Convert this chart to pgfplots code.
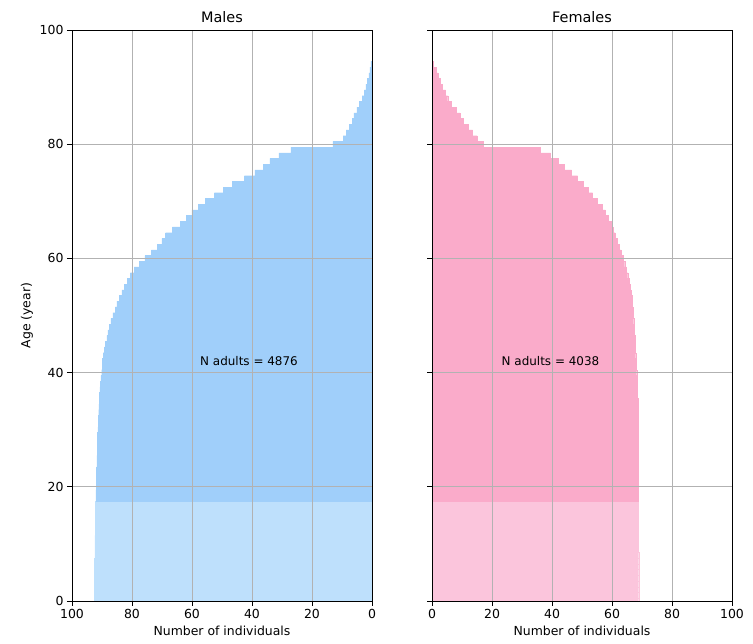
\documentclass[border=0pt]{standalone}
\usepackage{pgfplots}
\pgfplotsset{compat=1.18}
\usepackage{fontspec}
\setmainfont{DejaVu Sans}
\definecolor{mad}{RGB}{160,207,250}
\definecolor{mch}{RGB}{190,224,252}
\definecolor{fad}{RGB}{250,171,202}
\definecolor{fch}{RGB}{251,197,220}
\pgfplotsset{
  pyr/.style={
    scale only axis, width=300bp, height=571bp,
    xmin=0, xmax=100, ymin=0, ymax=100,
    xtick={0,20,...,100}, ytick={0,20,...,100},
    grid=major, major grid style={gray!60, line width=0.6bp},
    axis line style={line width=0.8bp},
    tick style={black, line width=0.8bp},
    major tick length=5bp,
    tick align=outside, tick pos=left,
    axis on top,
    /pgf/number format/assume math mode=true,
    ticklabel style={font=\fontsize{12.5}{15}\selectfont},
    label style={font=\fontsize{12.5}{15}\selectfont},
    title style={font=\fontsize{14.5}{17}\selectfont, yshift=-2bp},
    xlabel={Number of individuals},
    xbar, bar width=1, bar shift=0,
  }
}
\begin{document}
\begin{tikzpicture}
\begin{axis}[pyr, x dir=reverse, title={Males}, ylabel={Age (year)}]
\addplot[fill=mch, draw=mch, line width=0.2bp] coordinates {
(92.6,0) (92.6,1) (92.6,2) (92.5,3) (92.5,4) (92.5,5) (92.5,6) (92.5,7) (92.4,8)
(92.4,9) (92.4,10) (92.4,11) (92.3,12) (92.3,13) (92.3,14) (92.3,15) (92.2,16) (92.2,17)};
\addplot[fill=mad, draw=mad, line width=0.2bp] coordinates {
(92.0,18) (92.0,19) (91.9,20) (91.9,21) (91.8,22) (91.8,23) (91.7,24) (91.7,25)
(91.6,26) (91.6,27) (91.5,28) (91.5,29) (91.4,30) (91.3,31) (91.2,32) (91.1,33)
(91.0,34) (90.9,35) (90.8,36) (90.7,37) (90.6,38) (90.4,39) (90.1,40) (89.9,41)
(89.8,42) (89.6,43) (89.2,44) (88.9,45) (88.4,46) (88.0,47) (87.5,48) (87.0,49)
(86.4,50) (85.6,51) (85.0,52) (84.2,53) (83.4,54) (82.5,55) (81.6,56) (80.5,57)
(79.3,58) (77.6,59) (75.7,60) (73.5,61) (71.5,62) (70.0,63) (68.8,64) (66.5,65)
(63.8,66) (61.8,67) (60.0,68) (57.8,69) (55.5,70) (52.5,71) (49.5,72) (46.5,73)
(42.5,74) (39.0,75) (36.2,76) (34.0,77) (31.0,78) (27.0,79) (13.0,80) (9.6,81)
(8.6,82) (7.6,83) (6.6,84) (6.0,85) (5.0,86) (4.2,87) (3.3,88) (2.6,89) (2.0,90)
(1.5,91) (1.0,92) (0.7,93) (0.4,94)};
\node[font=\fontsize{12}{14}\selectfont] at (axis cs:41,42) {N adults = 4876};
\end{axis}
\begin{axis}[pyr, xshift=360bp, title={Females}, yticklabels={}]
\addplot[fill=fch, draw=fch, line width=0.2bp] coordinates {
(68.9,0) (68.9,1) (68.9,2) (68.9,3) (68.9,4) (68.9,5) (68.9,6) (68.9,7) (68.9,8)
(68.8,9) (68.8,10) (68.8,11) (68.8,12) (68.8,13) (68.8,14) (68.8,15) (68.8,16) (68.8,17)};
\addplot[fill=fad, draw=fad, line width=0.2bp] coordinates {
(68.8,18) (68.8,19) (68.8,20) (68.8,21) (68.8,22) (68.8,23) (68.8,24) (68.8,25)
(68.8,26) (68.8,27) (68.8,28) (68.8,29) (68.8,30) (68.7,31) (68.7,32) (68.7,33)
(68.6,34) (68.6,35) (68.5,36) (68.5,37) (68.4,38) (68.3,39) (68.2,40) (68.1,41)
(68.0,42) (67.9,43) (67.8,44) (67.8,45) (67.7,46) (67.5,47) (67.4,48) (67.2,49)
(67.1,50) (67.0,51) (66.8,52) (66.6,53) (66.3,54) (66.0,55) (65.6,56) (65.2,57)
(64.8,58) (64.2,59) (63.6,60) (63.0,61) (62.4,62) (61.8,63) (61.0,64) (60.3,65)
(59.6,66) (58.7,67) (57.8,68) (56.8,69) (55.0,70) (53.5,71) (52.0,72) (50.3,73)
(48.5,74) (46.5,75) (44.0,76) (42.0,77) (39.5,78) (36.0,79) (17.0,80) (15.0,81)
(13.5,82) (12.0,83) (10.5,84) (9.3,85) (8.0,86) (6.5,87) (5.2,88) (4.5,89)
(3.5,90) (2.8,91) (2.0,92) (1.3,93) (0.5,94)};
\node[font=\fontsize{12}{14}\selectfont] at (axis cs:39.5,42) {N adults = 4038};
\end{axis}
\pgfresetboundingbox
\path (-72bp,-43bp) rectangle (681bp,601bp);
\end{tikzpicture}
\end{document}
